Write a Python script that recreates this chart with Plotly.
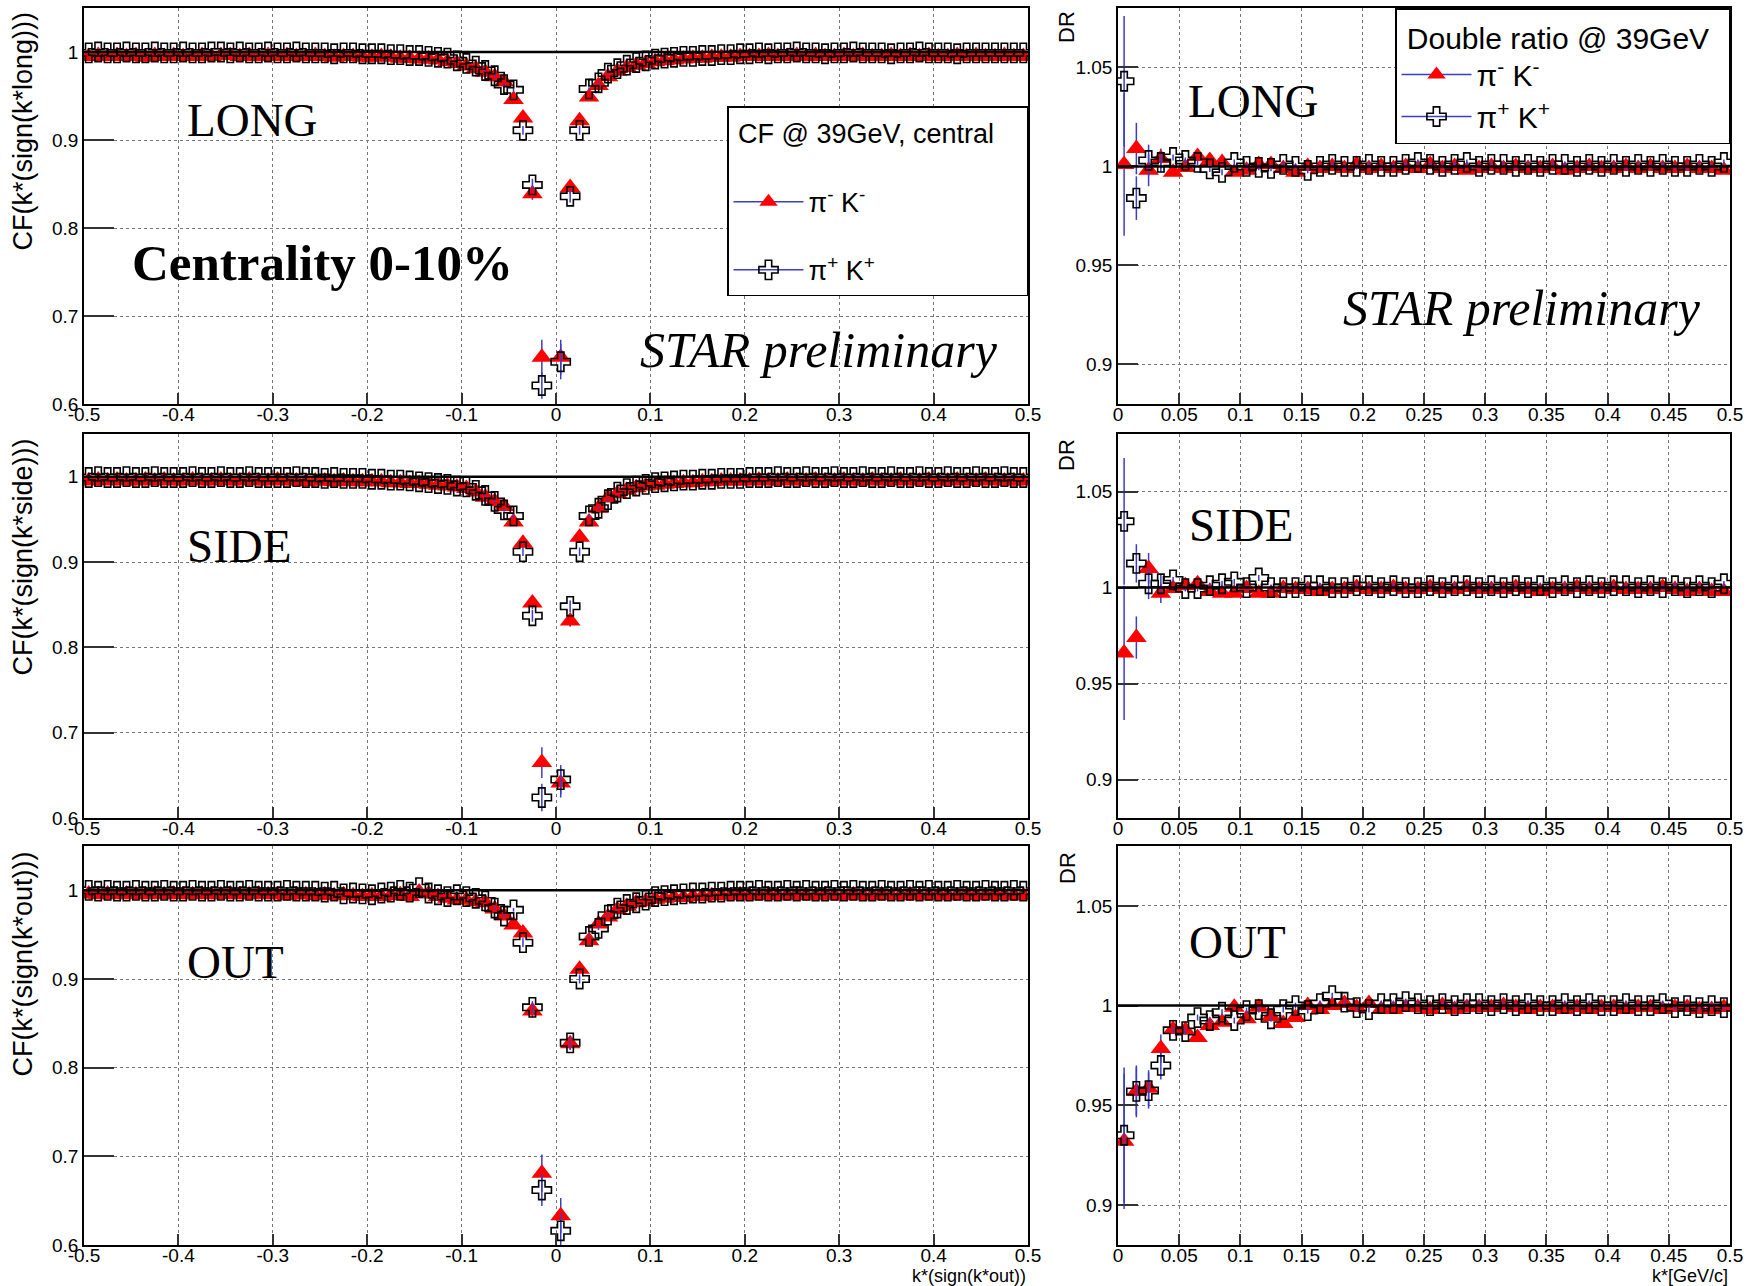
import plotly.graph_objects as go

W, H = 1758, 1286

# ---------------- data ----------------
# bin centres of k* (GeV/c)
k_cf = [round(-0.495 + 0.01 * i, 3) for i in range(100)]
k_dr = [round(0.005 + 0.01 * i, 3) for i in range(50)]

# correlation functions, pi- K- (red triangles) and pi+ K+ (open crosses)
cf_long_mm = [0.995,0.996,0.995,0.996,0.995,0.996,0.994,0.996,0.995,0.996,
              0.995,0.995,0.996,0.995,0.996,0.996,0.995,0.996,0.995,0.996,
              0.995,0.996,0.995,0.995,0.996,0.995,0.994,0.995,0.995,0.994,
              0.994,0.995,0.994,0.993,0.993,0.992,0.992,0.991,0.989,0.987,
              0.984,0.981,0.977,0.972,0.966,0.946,0.925,0.839,0.653,None,
              0.653,0.846,0.922,0.949,0.962,0.972,0.978,0.982,0.985,0.987,
              0.989,0.990,0.991,0.992,0.993,0.993,0.994,0.994,0.994,0.995,
              0.995,0.995,0.996,0.995,0.995,0.996,0.995,0.996,0.995,0.995,
              0.996,0.995,0.996,0.995,0.995,0.996,0.995,0.996,0.995,0.996,
              0.995,0.995,0.996,0.995,0.996,0.995,0.995,0.996,0.995,0.995]
cf_long_pp = [0.999,1.000,0.999,0.999,1.000,0.999,0.999,1.000,0.999,0.999,
              1.000,0.999,0.999,1.000,1.000,0.999,1.000,0.999,0.999,1.000,
              0.999,0.999,1.000,0.999,0.999,0.999,0.998,0.999,0.999,0.998,
              0.998,0.998,0.997,0.997,0.996,0.996,0.995,0.994,0.993,0.990,
              0.987,0.984,0.979,0.973,0.963,0.957,0.911,0.849,0.621,None,
              0.648,0.836,0.911,0.958,0.965,0.976,0.981,0.985,0.988,0.990,
              0.992,0.993,0.994,0.995,0.995,0.996,0.996,0.997,0.997,0.998,
              0.998,0.999,0.998,0.999,0.999,1.000,0.999,0.999,0.998,0.999,
              0.999,1.000,0.999,0.999,0.999,0.998,0.999,0.999,1.000,0.999,
              0.999,0.999,0.998,0.999,0.999,0.999,0.999,0.999,0.999,0.999]
cf_side_mm = [0.995,0.996,0.995,0.996,0.995,0.995,0.996,0.995,0.996,0.995,
              0.995,0.996,0.995,0.995,0.996,0.995,0.995,0.996,0.995,0.995,
              0.996,0.995,0.995,0.994,0.995,0.995,0.994,0.995,0.994,0.994,
              0.994,0.994,0.993,0.993,0.992,0.992,0.991,0.990,0.989,0.988,
              0.986,0.982,0.976,0.971,0.965,0.947,0.922,0.852,0.665,None,
              0.641,0.831,0.929,0.947,0.963,0.975,0.980,0.984,0.987,0.989,
              0.990,0.991,0.992,0.993,0.993,0.994,0.994,0.995,0.995,0.995,
              0.995,0.996,0.995,0.995,0.996,0.995,0.995,0.996,0.995,0.995,
              0.996,0.995,0.995,0.996,0.995,0.995,0.996,0.995,0.995,0.996,
              0.995,0.995,0.996,0.995,0.995,0.996,0.995,0.995,0.995,0.995]
cf_side_pp = [0.999,1.000,0.999,0.999,1.000,0.999,0.999,1.000,0.999,0.999,
              0.999,1.000,0.999,0.999,1.000,0.999,0.999,1.000,0.999,0.999,
              0.999,0.999,1.000,0.999,0.999,0.998,0.999,0.998,0.998,0.998,
              0.997,0.997,0.996,0.996,0.995,0.994,0.993,0.992,0.991,0.989,
              0.988,0.984,0.978,0.971,0.961,0.954,0.912,0.837,0.624,None,
              0.645,0.848,0.912,0.954,0.963,0.973,0.982,0.986,0.989,0.991,
              0.993,0.994,0.995,0.996,0.996,0.997,0.997,0.998,0.998,0.998,
              0.999,0.999,0.999,1.000,0.999,0.999,1.000,0.999,0.999,1.000,
              0.999,0.999,1.000,0.999,0.999,1.000,0.999,0.999,1.000,0.999,
              0.999,1.000,0.999,0.999,1.000,0.999,0.999,1.000,0.999,0.999]
cf_out_mm = [0.996,0.995,0.996,0.995,0.996,0.995,0.995,0.996,0.995,0.996,
             0.995,0.995,0.996,0.995,0.995,0.996,0.995,0.995,0.996,0.995,
             0.995,0.994,0.995,0.995,0.994,0.995,0.994,0.995,0.994,0.993,
             0.994,0.993,0.994,0.995,0.993,0.998,0.996,0.993,0.991,0.989,
             0.989,0.987,0.986,0.979,0.971,0.961,0.952,0.864,0.681,None,
             0.633,0.827,0.911,0.943,0.962,0.970,0.978,0.982,0.986,0.987,
             0.990,0.991,0.992,0.992,0.993,0.993,0.994,0.994,0.994,0.995,
             0.994,0.994,0.995,0.994,0.994,0.995,0.994,0.994,0.995,0.994,
             0.994,0.995,0.994,0.994,0.995,0.994,0.994,0.995,0.994,0.994,
             0.995,0.994,0.994,0.995,0.994,0.994,0.995,0.994,0.994,0.994]
cf_out_pp = [1.000,0.999,1.000,0.999,0.999,1.000,0.999,0.999,1.000,0.999,
             0.999,1.000,0.999,0.999,1.000,0.999,0.999,1.000,0.999,0.999,
             0.999,1.000,0.999,0.999,0.999,0.998,0.999,0.996,0.997,0.996,
             0.995,0.997,0.998,1.000,0.998,1.003,0.997,0.995,0.993,0.995,
             0.993,0.991,0.988,0.980,0.971,0.978,0.941,0.868,0.662,None,
             0.616,0.828,0.900,0.948,0.957,0.972,0.980,0.984,0.986,0.989,
             0.993,0.994,0.995,0.996,0.997,0.997,0.998,0.998,0.999,0.999,
             0.999,1.000,0.999,0.999,1.000,0.999,1.000,0.999,0.999,1.000,
             0.999,1.000,0.999,0.999,1.000,0.999,0.999,1.000,0.999,1.000,
             0.999,0.999,1.000,0.999,0.999,1.000,0.999,0.999,1.000,0.999]

# statistical errors of the visible central bins: k* -> (pi-K-, pi+K+)
cf_err_long = {-0.015: (0.020, 0.015), 0.005: (0.020, 0.020), -0.025: (0.007, 0.007),
               0.015: (0.007, 0.007), -0.035: (0.005, 0.005), 0.025: (0.005, 0.005)}
cf_err_side = {-0.015: (0.018, 0.016), 0.005: (0.017, 0.017), -0.025: (0.007, 0.007),
               0.015: (0.007, 0.007), -0.035: (0.005, 0.005), 0.025: (0.005, 0.005)}
cf_err_out = {-0.015: (0.021, 0.018), 0.005: (0.020, 0.020), -0.025: (0.007, 0.007),
              0.015: (0.007, 0.007), -0.035: (0.005, 0.005), 0.025: (0.005, 0.005)}
cf_err_default = 0.002

# double ratios
dr_long_mm = [1.001,1.009,0.998,1.004,0.997,0.9995,1.005,1.003,1.002,0.997,
              0.998,1.001,1.001,0.999,0.997,1.000,0.999,1.000,0.999,1.001,
              0.999,1.000,0.999,1.000,0.999,1.001,0.999,1.000,0.998,0.999,
              1.000,0.999,1.000,0.999,0.999,1.000,0.998,0.999,1.000,0.999,
              0.999,1.000,0.999,1.000,0.999,0.999,1.000,0.999,0.999,0.998]
dr_long_pp = [1.043,0.984,1.003,1.002,1.0045,1.003,1.002,0.9987,0.997,1.002,
              1.000,0.9995,0.999,1.001,1.000,0.998,1.000,1.001,1.000,1.000,
              1.001,1.000,1.000,1.001,1.002,1.001,1.000,1.001,1.002,1.000,
              1.001,1.001,1.000,1.001,1.000,1.001,1.001,1.000,1.001,1.000,
              1.001,1.000,1.001,1.000,1.001,1.000,1.000,1.001,1.000,1.002]
dr_side_mm = [0.966,0.974,1.010,0.997,0.9995,1.001,1.002,0.998,0.997,0.997,
              0.9995,0.997,0.997,0.9995,0.999,0.999,0.998,0.999,0.999,1.000,
              0.999,0.999,1.000,0.999,0.999,1.000,0.999,0.999,1.000,0.999,
              0.999,0.999,1.000,0.999,0.998,0.999,0.999,1.000,0.999,0.999,
              1.000,0.999,0.999,0.999,1.000,0.999,0.998,0.999,0.998,0.998]
dr_side_pp = [1.0345,1.0126,1.002,1.002,1.004,0.9995,0.9995,1.001,1.002,1.003,
              1.000,1.005,1.000,1.000,1.000,1.001,1.001,1.000,1.000,1.001,
              1.001,1.000,1.001,1.000,1.000,1.001,1.000,1.001,1.001,1.000,
              1.001,1.000,1.001,1.000,1.001,1.000,1.001,1.000,1.001,1.000,
              1.001,1.001,1.000,1.001,1.000,1.001,1.000,1.001,1.000,1.002]
dr_out_mm = [0.932,0.957,0.9586,0.9785,0.988,0.9876,0.984,0.990,0.9917,0.9992,
             0.9934,0.9992,0.9945,0.991,0.994,1.000,0.998,1.000,1.001,0.999,
             1.001,0.998,0.998,0.999,0.999,0.998,1.000,0.998,0.999,0.999,
             0.999,1.000,0.999,0.998,0.999,0.999,0.998,0.999,0.998,0.999,
             0.999,0.998,0.999,0.999,0.998,0.999,0.999,0.998,0.998,0.999]
dr_out_pp = [0.935,0.957,0.9574,0.970,0.9876,0.987,0.994,0.9925,0.9967,0.9925,
             0.9975,0.998,0.9934,0.998,1.000,0.9975,1.001,1.005,1.0017,0.999,
             0.998,1.001,1.001,1.002,1.001,1.000,1.001,1.000,1.001,1.001,
             1.000,1.001,1.000,1.001,1.000,1.000,1.001,1.000,1.001,1.000,
             1.000,1.001,1.000,1.000,1.001,0.999,1.000,0.999,1.000,0.999]

dr_err_long = {0.005: (0.036, 0.033), 0.015: (0.013, 0.011), 0.025: (0.008, 0.008), 0.035: (0.005, 0.005)}
dr_err_side = {0.005: (0.035, 0.033), 0.015: (0.011, 0.010), 0.025: (0.008, 0.008), 0.035: (0.005, 0.005)}
dr_err_out = {0.005: (0.034, 0.034), 0.015: (0.013, 0.012), 0.025: (0.009, 0.009), 0.035: (0.007, 0.007)}
dr_err_default = 0.0015

cf_xticks = [-0.5, -0.4, -0.3, -0.2, -0.1, 0, 0.1, 0.2, 0.3, 0.4, 0.5]
cf_xticktext = ["-0.5", "-0.4", "-0.3", "-0.2", "-0.1", "0", "0.1", "0.2", "0.3", "0.4", "0.5"]
cf_yticks = [0.6, 0.7, 0.8, 0.9, 1.0]
cf_yticktext = ["0.6", "0.7", "0.8", "0.9", "1"]
dr_xticks = [0, 0.05, 0.1, 0.15, 0.2, 0.25, 0.3, 0.35, 0.4, 0.45, 0.5]
dr_xticktext = ["0", "0.05", "0.1", "0.15", "0.2", "0.25", "0.3", "0.35", "0.4", "0.45", "0.5"]
dr_yticks = [0.9, 0.95, 1.0, 1.05]
dr_yticktext = ["0.9", "0.95", "1", "1.05"]

name_mm = "π<sup>-</sup> K<sup>-</sup>"
name_pp = "π<sup>+</sup> K<sup>+</sup>"

# ---------------- style ----------------
RED = "#ff0000"
BLUE = "#3c3cc8"
SANS = "Liberation Sans, Arial, sans-serif"
SERIF = "Liberation Serif, Times New Roman, serif"
NB = "\u00a0"

XL = [84 / W, 1028 / W]
XR = [1118 / W, 1730 / W]
ROWS = [[1 - 404 / H, 1 - 8 / H], [1 - 818 / H, 1 - 434 / H], [1 - 1245 / H, 1 - 846 / H]]

fig = go.Figure()

panels = [
    (1, "cf", 0, k_cf, cf_long_mm, cf_long_pp, cf_err_long),
    (2, "dr", 0, k_dr, dr_long_mm, dr_long_pp, dr_err_long),
    (3, "cf", 1, k_cf, cf_side_mm, cf_side_pp, cf_err_side),
    (4, "dr", 1, k_dr, dr_side_mm, dr_side_pp, dr_err_side),
    (5, "cf", 2, k_cf, cf_out_mm, cf_out_pp, cf_err_out),
    (6, "dr", 2, k_dr, dr_out_mm, dr_out_pp, dr_err_out),
]

layout_axes = {}
shapes = []
for idx, kind, row, xs, ymm, ypp, errs in panels:
    xa = "x" if idx == 1 else f"x{idx}"
    ya = "y" if idx == 1 else f"y{idx}"
    dflt = cf_err_default if kind == "cf" else dr_err_default
    e_mm = [errs.get(x, (dflt, dflt))[0] for x in xs]
    e_pp = [errs.get(x, (dflt, dflt))[1] for x in xs]
    fig.add_trace(go.Scatter(
        x=xs, y=ymm, mode="markers", xaxis=xa, yaxis=ya, showlegend=False,
        marker=dict(symbol="triangle-up", size=18, color=RED, line=dict(width=0)),
        error_y=dict(type="data", array=e_mm, color=BLUE, thickness=1.5, width=0),
    ))
    fig.add_trace(go.Scatter(
        x=xs, y=ypp, mode="markers", xaxis=xa, yaxis=ya, showlegend=False,
        marker=dict(symbol="cross-open", size=16, color="black", line=dict(width=1.6, color="black")),
        error_y=dict(type="data", array=e_pp, color=BLUE, thickness=1.5, width=0),
    ))
    common = dict(showline=True, linecolor="black", linewidth=1.5, mirror=True,
                  ticks="inside", tickcolor="#333", tickwidth=1.5, automargin=False,
                  showgrid=True, gridcolor="#777", griddash="dot", gridwidth=1,
                  zeroline=False, tickfont=dict(family=SANS, size=19, color="black"))
    if kind == "cf":
        xax = dict(common, domain=XL, range=[-0.5, 0.5], tickvals=cf_xticks, ticktext=cf_xticktext,
                   ticklen=11, anchor=ya, ticklabelstandoff=-8)
        yax = dict(common, domain=ROWS[row], range=[0.6, 1.05], tickvals=cf_yticks,
                   ticktext=cf_yticktext, ticklen=30, anchor=xa)
    else:
        xax = dict(common, domain=XR, range=[0, 0.5], tickvals=dr_xticks, ticktext=dr_xticktext,
                   ticklen=11, anchor=ya, ticklabelstandoff=-8)
        yax = dict(common, domain=ROWS[row], range=[0.88, 1.08], tickvals=dr_yticks,
                   ticktext=dr_yticktext, ticklen=20, anchor=xa)
    layout_axes["xaxis" if idx == 1 else f"xaxis{idx}"] = xax
    layout_axes["yaxis" if idx == 1 else f"yaxis{idx}"] = yax
    shapes.append(dict(type="line", xref=f"{xa} domain", yref=ya, x0=0, x1=1, y0=1, y1=1,
                       line=dict(color="black", width=2.5), layer="above"))

# legend entries (line + marker samples)
for leg, grp in (("legend", "a"), ("legend2", "c")):
    fig.add_trace(go.Scatter(x=[None], y=[None], mode="lines+markers", name=name_mm,
                             legend=leg, legendgroup=grp + "1",
                             line=dict(color=BLUE, width=1.5),
                             marker=dict(symbol="triangle-up", size=18, color=RED)))
    fig.add_trace(go.Scatter(x=[None], y=[None], mode="lines+markers", name=name_pp,
                             legend=leg, legendgroup=grp + "2",
                             line=dict(color=BLUE, width=1.5),
                             marker=dict(symbol="cross-open", size=16, color="black",
                                         line=dict(width=1.6, color="black"))))

ann = []
def txt(text, x, y, size, xanchor="left", yanchor="middle", family=SERIF, angle=0):
    ann.append(dict(text=text, x=x / W, y=1 - y / H, xref="paper", yref="paper",
                    xanchor=xanchor, yanchor=yanchor, showarrow=False, textangle=angle,
                    font=dict(family=family, size=size, color="black")))

# panel labels
txt("LONG", 185, 120, 47)
txt("<b>Centrality 0-10%</b>", 130, 263, 51)
txt("<i>STAR preliminary</i>", 1000, 350, 50, xanchor="right")
txt("LONG", 1186, 101, 47)
txt("<i>STAR preliminary</i>", 1703, 308, 50, xanchor="right")
txt("SIDE", 185, 546, 47)
txt("SIDE", 1187, 525, 47)
txt("OUT", 185, 962, 47)
txt("OUT", 1187, 942, 47)
# axis titles
txt("CF(k*(sign(k*long)))", 22, 10, 27, xanchor="center", yanchor="top", family=SANS, angle=-90)
txt("CF(k*(sign(k*side)))", 22, 437, 27, xanchor="center", yanchor="top", family=SANS, angle=-90)
txt("CF(k*(sign(k*out)))", 22, 850, 27, xanchor="center", yanchor="top", family=SANS, angle=-90)
for ytop in (9, 437, 850):
    txt("DR", 1067, ytop, 22, xanchor="center", yanchor="top", family=SANS, angle=-90)
txt("k*(sign(k*out))", 1028, 1276, 18, xanchor="right", family=SANS)
txt("k*[GeV/c]", 1730, 1276, 18, xanchor="right", family=SANS)

leg_common = dict(bgcolor="white", bordercolor="black", borderwidth=1.5, itemwidth=70,
                  traceorder="grouped", itemsizing="trace", xanchor="right", yanchor="top")

fig.update_layout(
    width=W, height=H, margin=dict(l=0, r=0, t=0, b=0, autoexpand=False),
    paper_bgcolor="white", plot_bgcolor="white",
    shapes=shapes, annotations=ann,
    legend=dict(leg_common, x=XL[1], y=1 - 106 / H, tracegroupgap=30,
                font=dict(family=SANS, size=27, color="black"),
                title=dict(text=NB + "CF @ 39GeV, central" + NB * 4 + "<br> ",
                           font=dict(family=SANS, size=27))),
    legend2=dict(leg_common, x=XR[1], y=1 - 8 / H, tracegroupgap=0,
                 font=dict(family=SANS, size=30, color="black"),
                 title=dict(text=NB + "Double ratio @ 39GeV" + NB * 2,
                            font=dict(family=SANS, size=30))),
    **layout_axes,
)

fig.write_html("out.html")
